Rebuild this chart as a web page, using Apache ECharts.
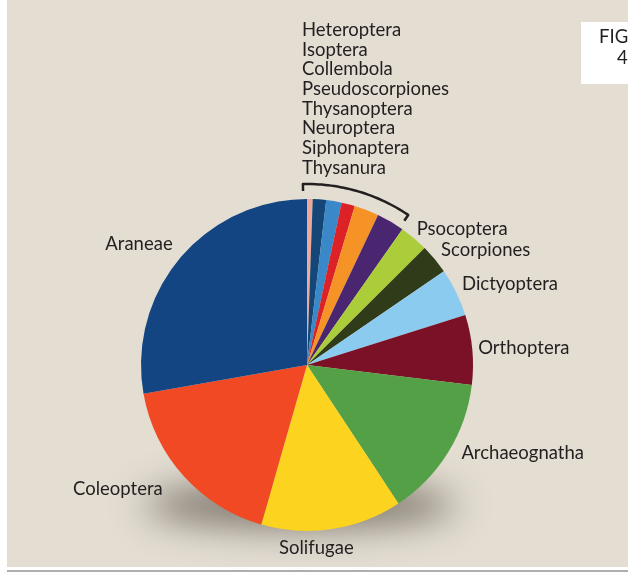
<!DOCTYPE html>
<html>
<head>
<meta charset="utf-8">
<script src="https://cdn.jsdelivr.net/npm/echarts@6/dist/echarts.min.js"></script>
<style>
  body { margin: 0; background: #fff; }
  #paper { position: absolute; left: 7px; top: 0; width: 621px; height: 567px; background: #e3ddd2; }
  #rule { position: absolute; left: 7px; top: 570px; width: 621px; height: 2px; background: #b0aeab; }
  #chart { position: absolute; left: 0; top: 0; width: 628px; height: 572px; }
</style>
</head>
<body>
<div id="paper"></div>
<div id="rule"></div>
<div id="chart"></div>
<script>
// slices clockwise from 12 o'clock, share of total (%)
const orders = ['Thysanura', 'Siphonaptera', 'Neuroptera', 'Thysanoptera', 'Pseudoscorpiones', 'Collembola',
  'Psocoptera', 'Scorpiones', 'Dictyoptera', 'Orthoptera', 'Archaeognatha', 'Solifugae', 'Coleoptera', 'Araneae'];
const shares = [0.55, 1.3, 1.5, 1.3, 2.4, 2.7, 2.8, 2.9, 4.7, 6.8, 13.8, 13.75, 17.8, 27.8];
const colors = ['#eea99b', '#144677', '#3a88c8', '#dc2127', '#f69327', '#4a2670',
  '#abcd3a', '#2f3b19', '#8ccbf0', '#7b1126', '#54a046', '#fcd31e', '#f04923', '#134583'];
// small groups listed above the bracket
const minorNames = ['Heteroptera', 'Isoptera', 'Collembola', 'Pseudoscorpiones',
  'Thysanoptera', 'Neuroptera', 'Siphonaptera', 'Thysanura'];
const minorCount = 6;

const cx = 307, cy = 365, R = 166;
const ink = '#231f20';
const font = 'Lato, "Noto Sans", sans-serif';
const fs = 18.5;

// label nudges (px) from the default outside position
const nudge = {
  Araneae: [7, -7], Coleoptera: [-7, 5], Solifugae: [-60, 7], Archaeognatha: [-2, -6],
  Orthoptera: [-11, -1], Dictyoptera: [-10, -3], Scorpiones: [-8, -1], Psocoptera: [-10, 0]
};

// bracket over the small slices, concentric with the pie
function bracketPoints(r, tick, a0, a1) {
  const pts = [];
  const toXY = (deg, rr) => {
    const t = deg * Math.PI / 180;
    return [cx + rr * Math.sin(t), cy - rr * Math.cos(t)];
  };
  pts.push(toXY(a0, r - tick));
  for (let a = a0; a <= a1; a += 1) pts.push(toXY(a, r));
  pts.push(toXY(a1, r));
  pts.push(toXY(a1, r - tick));
  return pts;
}

const chart = echarts.init(document.getElementById('chart'), null, { renderer: 'canvas' });
chart.setOption({
  backgroundColor: 'transparent',
  animation: false,
  graphic: [
    {
      type: 'ellipse', z: -10, silent: true,
      shape: { cx: 300, cy: 505 - 2000, rx: 155, ry: 22 },
      style: { fill: '#6f6a62', shadowBlur: 36, shadowColor: 'rgba(75,68,58,0.7)', shadowOffsetY: 2000 }
    },
    {
      type: 'polyline', z: 10, silent: true,
      shape: { points: bracketPoints(181, 7, -1.3, 34) },
      style: { stroke: ink, lineWidth: 2.5, fill: null, lineJoin: 'round' }
    },
    {
      type: 'text', z: 10, left: 302, top: 20,
      style: { text: minorNames.join('\n'), font: fs + 'px ' + font, lineHeight: 19.7, fill: ink }
    },
    {
      type: 'rect', z: 5, shape: { x: 581, y: 22, width: 60, height: 62 }, style: { fill: '#ffffff' }
    },
    {
      type: 'text', z: 6, left: 599, top: 28,
      style: { text: 'FIGURE', font: '18.5px ' + font, fill: ink }
    },
    {
      type: 'text', z: 6, left: 617, top: 49,
      style: { text: '4', font: '18.5px ' + font, fill: ink }
    }
  ],
  series: [{
    type: 'pie',
    center: [cx, cy],
    radius: R,
    startAngle: 90,
    clockwise: true,
    avoidLabelOverlap: false,
    label: {
      show: true, position: 'outside', formatter: '{b}',
      color: ink, fontFamily: font, fontSize: fs, distanceToLabelLine: 5
    },
    labelLine: { show: false, length: 12, length2: 0 },
    labelLayout: function (p) {
      const n = nudge[orders[p.dataIndex]];
      return n ? { dx: n[0], dy: n[1] } : {};
    },
    emphasis: { disabled: true },
    data: orders.map((name, i) => ({
      name: name,
      value: shares[i],
      itemStyle: { color: colors[i] },
      label: { show: i >= minorCount }
    }))
  }]
});
</script>
</body>
</html>
